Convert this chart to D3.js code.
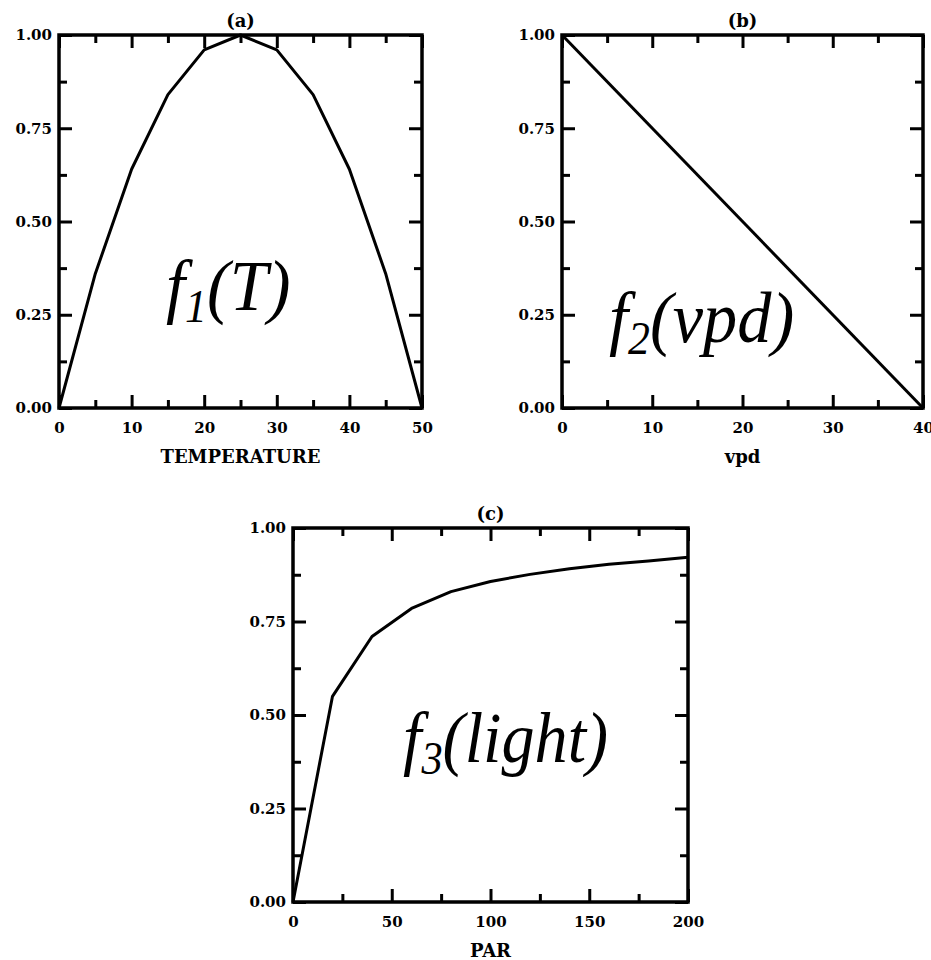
<!DOCTYPE html>
<html>
<head>
<meta charset="utf-8">
<script src="https://cdn.jsdelivr.net/npm/d3@7/dist/d3.min.js"></script>
<style>
  html, body { margin: 0; padding: 0; background: #fff; }
  svg { display: block; }
  .tick text { font-family: "DejaVu Serif", serif; font-weight: bold; font-size: 15px; fill: #000; }
  .tick line { stroke: #000; stroke-width: 3; }
  .fn { font-family: "Liberation Serif", "Times New Roman", Times, serif; font-style: italic; fill: #000; }
</style>
</head>
<body>
<svg id="chart" width="931" height="960"></svg>
<script>
// Response functions used by the stomatal conductance model
const temperature = [0, 5, 10, 15, 20, 25, 30, 35, 40, 45, 50];
const f1Values    = [0, 0.36, 0.64, 0.84, 0.96, 1.0, 0.96, 0.84, 0.64, 0.36, 0];

const vpd      = [0, 40];
const f2Values = [1.0, 0.0];

const par      = [0, 20, 40, 60, 80, 100, 120, 140, 160, 180, 200];
const f3Values = [0, 0.55, 0.71, 0.785, 0.83, 0.857, 0.876, 0.891, 0.903, 0.912, 0.922];

// Tick marks
const yMajorTicks = [0, 0.25, 0.5, 0.75, 1.0];
const yMinorTicks = [0.125, 0.375, 0.625, 0.875];
const tempMajorTicks = [0, 10, 20, 30, 40, 50];
const tempMinorTicks = [5, 15, 25, 35, 45];
const vpdMajorTicks = [0, 10, 20, 30, 40];
const vpdMinorTicks = [5, 15, 25, 35];
const parMajorTicks = [0, 50, 100, 150, 200];
const parMinorTicks = [25, 75, 125, 175];

// Panel titles, axis titles, and function labels
const panelTitles = ["(a)", "(b)", "(c)"];
const axisTitles = ["TEMPERATURE", "vpd", "PAR"];
const fnNames = ["f", "f", "f"];
const fnSubs = ["1", "2", "3"];
const fnArgs = ["(T)", "(vpd)", "(light)"];

const svg = d3.select("#chart");

const panels = [
  { x: temperature, y: f1Values, domain: [0, 50], majors: tempMajorTicks, minors: tempMinorTicks,
    left: 59, right: 422, top: 35, bottom: 408, label: { x: 166, y: 310, size: 72, sx: 0.95 } },
  { x: vpd, y: f2Values, domain: [0, 40], majors: vpdMajorTicks, minors: vpdMinorTicks,
    left: 562, right: 923, top: 35, bottom: 408, label: { x: 609, y: 342, size: 72, sx: 0.95 } },
  { x: par, y: f3Values, domain: [0, 200], majors: parMajorTicks, minors: parMinorTicks,
    left: 293, right: 688, top: 528, bottom: 902, label: { x: 403, y: 762, size: 72, sx: 0.92 } }
];

const fmtY = d3.format(".2f");

panels.forEach((p, i) => {
  const xs = d3.scaleLinear().domain(p.domain).range([p.left, p.right]);
  const ys = d3.scaleLinear().domain([0, 1]).range([p.bottom, p.top]);
  const g = svg.append("g");
  const noDomain = sel => sel.select(".domain").remove();

  // Bottom axis: labelled majors and minors, pointing inward
  g.append("g").attr("transform", `translate(0,${p.bottom})`)
    .call(d3.axisBottom(xs).tickValues(p.majors).tickSize(-13).tickPadding(14).tickFormat(d3.format("d")))
    .call(noDomain);
  g.append("g").attr("transform", `translate(0,${p.bottom})`)
    .call(d3.axisBottom(xs).tickValues(p.minors).tickSize(-8).tickFormat(""))
    .call(noDomain);
  // Top axis mirror ticks
  g.append("g").attr("transform", `translate(0,${p.top})`)
    .call(d3.axisTop(xs).tickValues(p.majors).tickSize(-13).tickFormat(""))
    .call(noDomain);
  g.append("g").attr("transform", `translate(0,${p.top})`)
    .call(d3.axisTop(xs).tickValues(p.minors).tickSize(-8).tickFormat(""))
    .call(noDomain);
  // Left axis
  g.append("g").attr("transform", `translate(${p.left},0)`)
    .call(d3.axisLeft(ys).tickValues(yMajorTicks).tickSize(-13).tickPadding(7).tickFormat(fmtY))
    .call(noDomain);
  g.append("g").attr("transform", `translate(${p.left},0)`)
    .call(d3.axisLeft(ys).tickValues(yMinorTicks).tickSize(-8).tickFormat(""))
    .call(noDomain);
  // Right axis mirror ticks
  g.append("g").attr("transform", `translate(${p.right},0)`)
    .call(d3.axisRight(ys).tickValues(yMajorTicks).tickSize(-13).tickFormat(""))
    .call(noDomain);
  g.append("g").attr("transform", `translate(${p.right},0)`)
    .call(d3.axisRight(ys).tickValues(yMinorTicks).tickSize(-8).tickFormat(""))
    .call(noDomain);

  // Frame
  g.append("rect")
    .attr("x", p.left).attr("y", p.top)
    .attr("width", p.right - p.left).attr("height", p.bottom - p.top)
    .attr("fill", "none").attr("stroke", "#000").attr("stroke-width", 3.5);

  // Response curve
  const line = d3.line().x((d, k) => xs(p.x[k])).y(d => ys(d));
  g.append("path").datum(p.y)
    .attr("d", line)
    .attr("fill", "none").attr("stroke", "#000").attr("stroke-width", 3)
    .attr("stroke-linejoin", "round");

  const cx = (p.left + p.right) / 2;
  // Panel title
  g.append("text").attr("x", cx).attr("y", p.top - 8)
    .attr("text-anchor", "middle")
    .style("font-family", "'DejaVu Serif', serif").style("font-weight", "bold").style("font-size", "18px")
    .text(panelTitles[i]);
  // Axis title
  g.append("text").attr("x", cx).attr("y", p.bottom + 55)
    .attr("text-anchor", "middle")
    .style("font-family", "'DejaVu Serif', serif").style("font-weight", "bold").style("font-size", "18px")
    .text(axisTitles[i]);

  // Function label, slightly condensed horizontally
  const t = g.append("text").attr("class", "fn")
    .attr("transform", `translate(${p.label.x},${p.label.y}) scale(${p.label.sx},1)`)
    .style("font-size", p.label.size + "px");
  t.append("tspan").text(fnNames[i]);
  t.append("tspan").attr("dy", 12).style("font-size", (p.label.size * 0.64) + "px").text(fnSubs[i]);
  t.append("tspan").attr("dy", -12).text(fnArgs[i]);
});
</script>
</body>
</html>
